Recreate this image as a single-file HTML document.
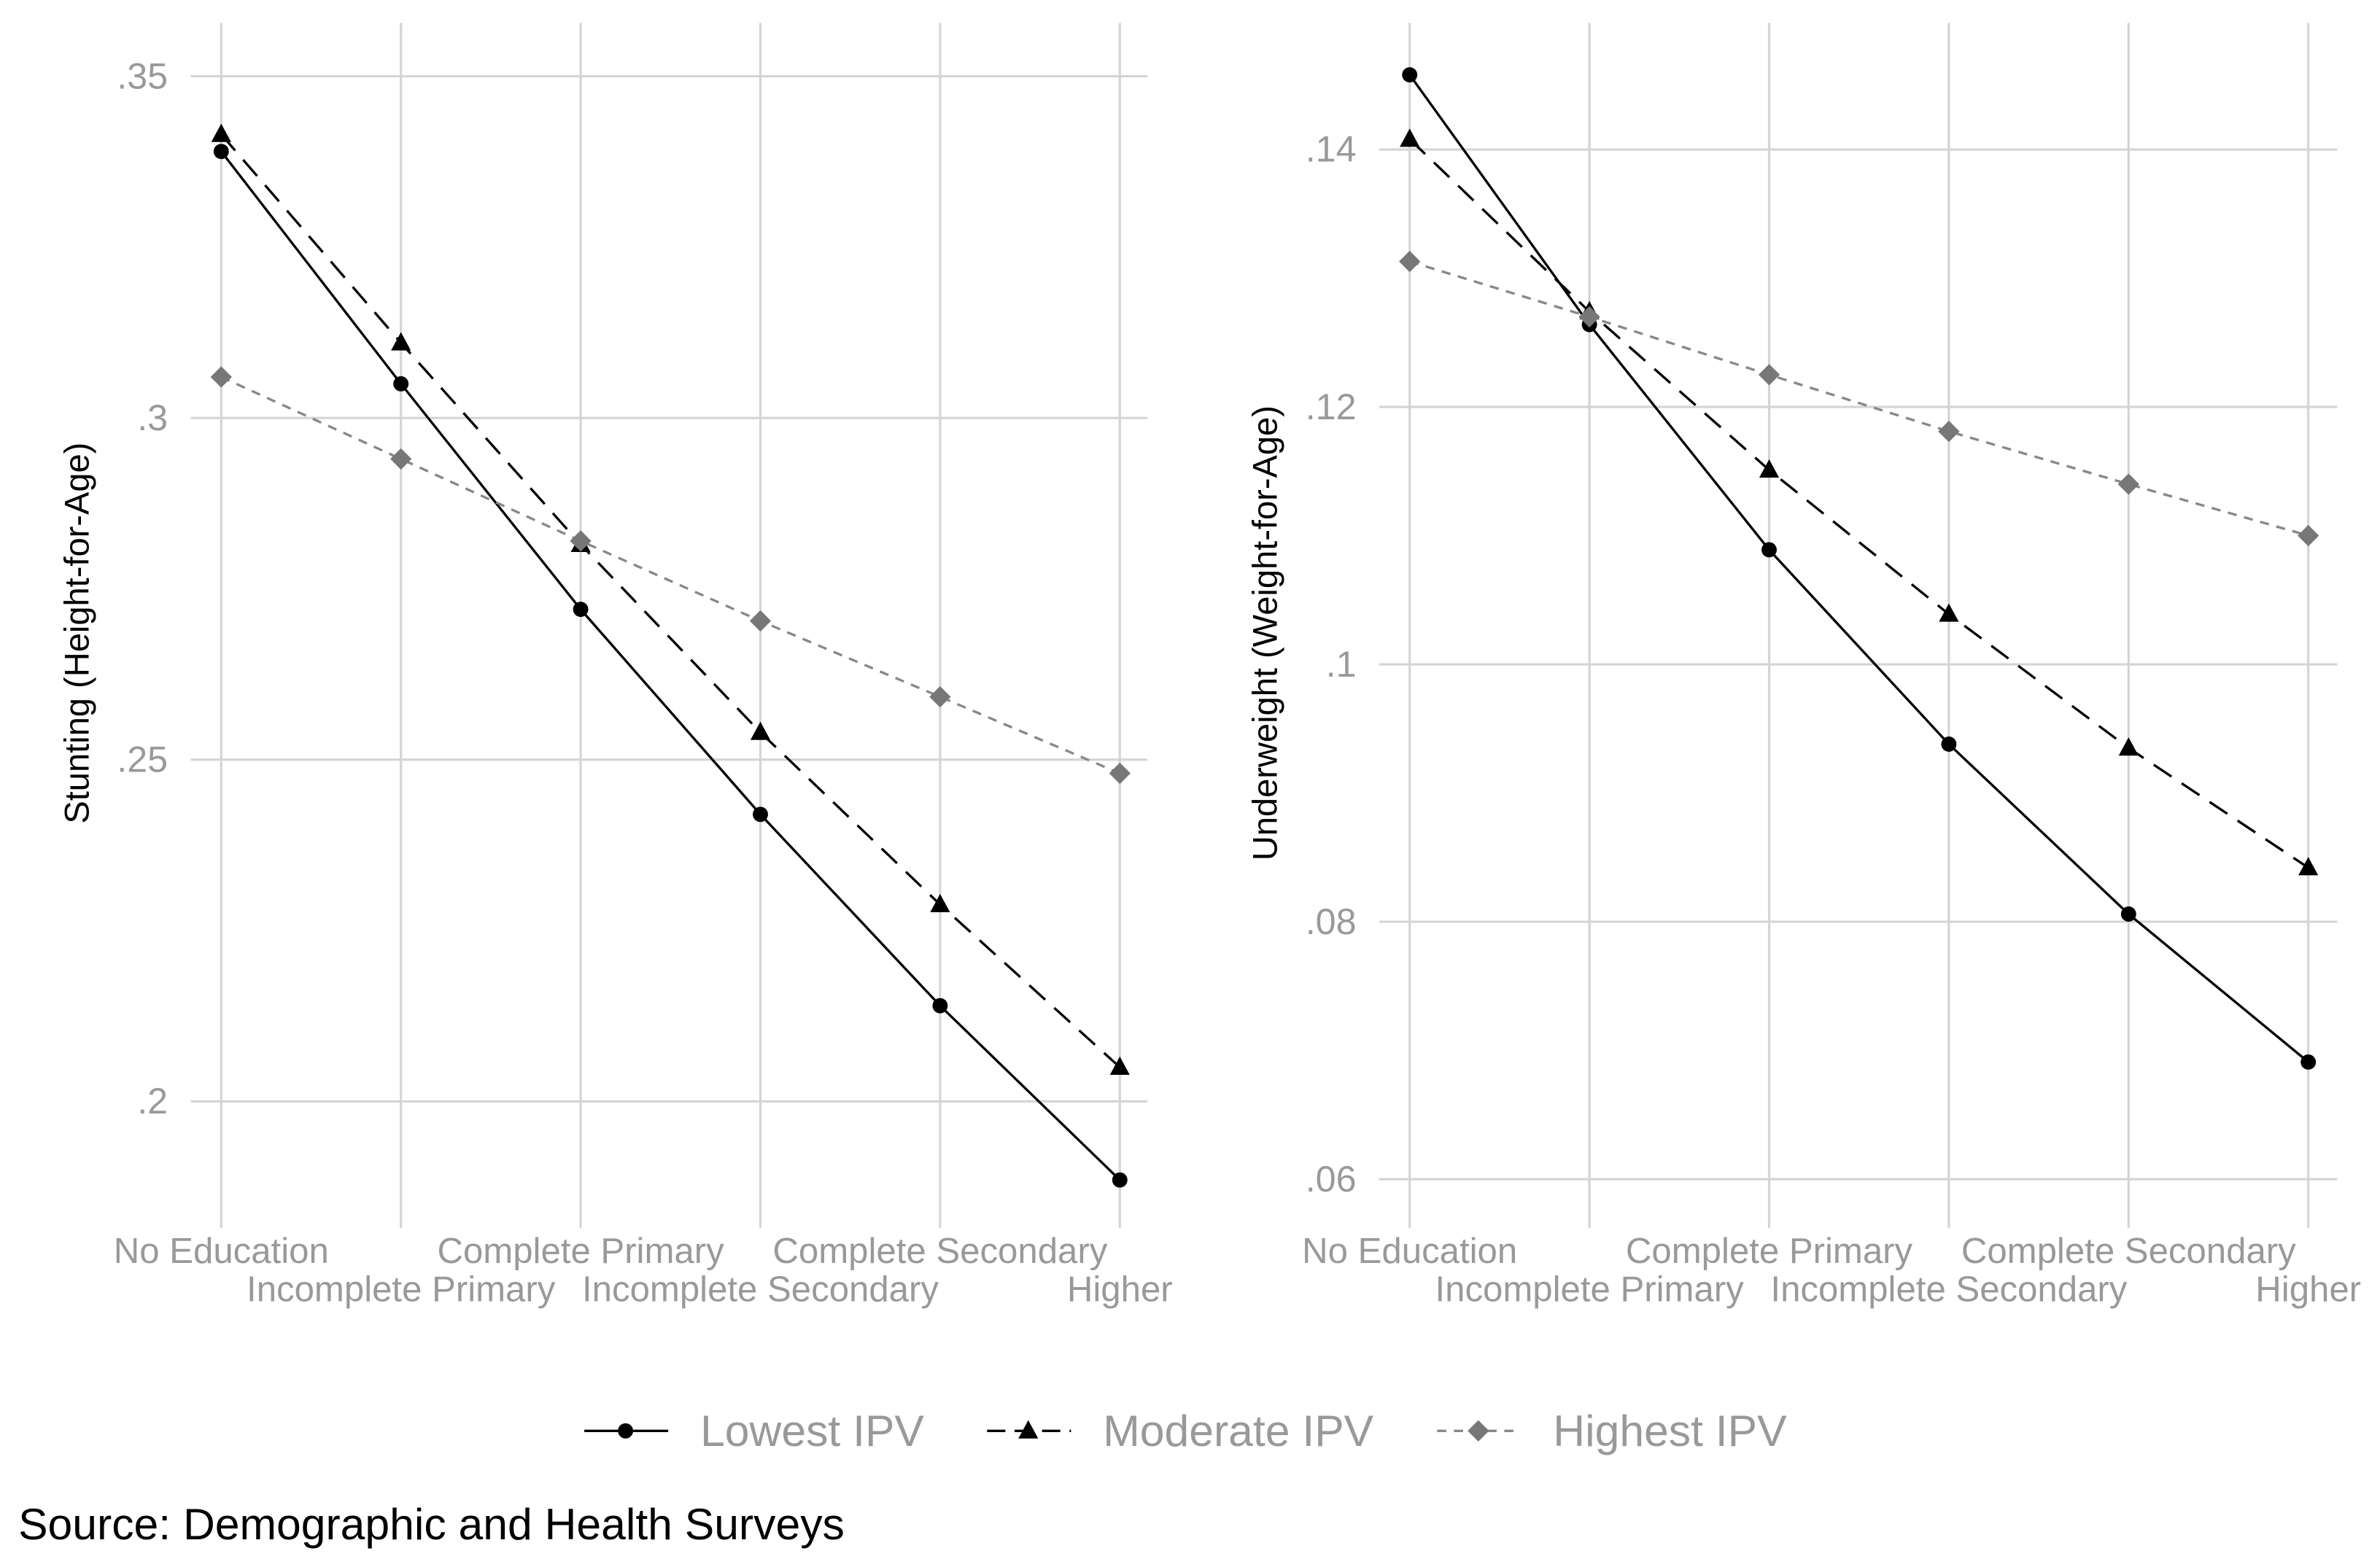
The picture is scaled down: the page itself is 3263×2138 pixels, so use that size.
<!DOCTYPE html>
<html><head><meta charset="utf-8"><style>
html,body{margin:0;padding:0;background:#fff;}
svg{display:block;font-family:"Liberation Sans",sans-serif;}
</style></head><body>
<svg id="chart" width="3263" height="2138" viewBox="0 0 1560 1022" preserveAspectRatio="none" xmlns="http://www.w3.org/2000/svg">
<g id="left"></g>
<g id="right"></g>
<g id="legend"></g>
<text x="12" y="1009" font-size="29" fill="#000">Source: Demographic and Health Surveys</text>
</svg>
<script>
const categories = ["No Education","Incomplete Primary","Complete Primary","Incomplete Secondary","Complete Secondary","Higher"];
const seriesNames = ["Lowest IPV","Moderate IPV","Highest IPV"];
const stuntLowest = [0.339,0.305,0.272,0.242,0.214,0.1885];
const stuntModerate = [0.3415,0.311,0.2815,0.254,0.2288,0.205];
const stuntHighest = [0.306,0.294,0.282,0.2703,0.2592,0.248];
const underLowest = [0.1458,0.1264,0.1089,0.0938,0.0806,0.0691];
const underModerate = [0.1408,0.1274,0.1151,0.1039,0.0935,0.0842];
const underHighest = [0.1313,0.127,0.1225,0.1181,0.114,0.11];
const stuntTicks = [0.2,0.25,0.3,0.35];
const stuntTickLabels = [".2",".25",".3",".35"];
const underTicks = [0.06,0.08,0.1,0.12,0.14];
const underTickLabels = [".06",".08",".1",".12",".14"];

const NS="http://www.w3.org/2000/svg";
function mk(parent,tag,attrs){const e=document.createElementNS(NS,tag);for(const k in attrs)e.setAttribute(k,attrs[k]);parent.appendChild(e);return e;}
const styles=[
 {stroke:"#000",dash:"",fill:"#000",shape:"circle"},
 {stroke:"#000",dash:"14,8",fill:"#000",shape:"triangle"},
 {stroke:"#888",dash:"6,5",fill:"#777",shape:"diamond"}];
function marker(g,shape,x,y,fill,name){
 let m;
 if(shape==="circle") m=mk(g,"circle",{cx:x,cy:y,r:5,fill:fill});
 else if(shape==="triangle") m=mk(g,"polygon",{points:`${x},${y-7} ${x-6.5},${y+5} ${x+6.5},${y+5}`,fill:fill});
 else m=mk(g,"polygon",{points:`${x},${y-7} ${x+7},${y} ${x},${y+7} ${x-7},${y}`,fill:fill});
 
 
 return m;
}
function panel(g,cfg){
 const xS=i=>cfg.x0+i*(cfg.x1-cfg.x0)/(categories.length-1);
 const yS=v=>cfg.yA+(v-cfg.vA)*(cfg.yB-cfg.yA)/(cfg.vB-cfg.vA);
 cfg.ticks.forEach((t,i)=>{
  const l=mk(g,"line",{x1:cfg.gl,x2:cfg.gr,y1:yS(t),y2:yS(t),stroke:"#d4d4d4","stroke-width":1.5});
  
  
  const tx=mk(g,"text",{x:cfg.gl-15,y:yS(t)+8,"font-size":24,fill:"#999","text-anchor":"end"});
  tx.textContent=cfg.labels[i];
  
  
 });
 categories.forEach((c,i)=>{
  const l=mk(g,"line",{x1:xS(i),x2:xS(i),y1:15,y2:805,stroke:"#d4d4d4","stroke-width":1.5});
  
  
  const tx=mk(g,"text",{x:xS(i),y:i%2===0?828:853,"font-size":23.5,fill:"#999","text-anchor":"middle"});
  tx.textContent=c;
  
  
 });
 const yt=mk(g,"text",{x:0,y:0,"font-size":22.5,fill:"#000","text-anchor":"middle",transform:`translate(${cfg.titleX},415) rotate(-90)`});
 yt.textContent=cfg.title;
 
 
 cfg.series.forEach((s,si)=>{
  const st=styles[si];
  const pts=s.map((v,i)=>xS(i)+","+yS(v)).join(" ");
  const pl=mk(g,"polyline",{points:pts,fill:"none",stroke:st.stroke,"stroke-width":1.6,"stroke-dasharray":st.dash});
  
  
  s.forEach((v,i)=>marker(g,st.shape,xS(i),yS(v),st.fill,'point-'+seriesNames[si].toLowerCase().replace(' ','-')));
 });
}
panel(document.getElementById("left"),{x0:145,x1:734,gl:125,gr:752,yA:722,vA:0.2,yB:50,vB:0.35,ticks:stuntTicks,labels:stuntTickLabels,title:"Stunting (Height-for-Age)",titleX:58,series:[stuntLowest,stuntModerate,stuntHighest]});
panel(document.getElementById("right"),{x0:924,x1:1513,gl:904,gr:1532,yA:773,vA:0.06,yB:98,vB:0.14,ticks:underTicks,labels:underTickLabels,title:"Underweight (Weight-for-Age)",titleX:837,series:[underLowest,underModerate,underHighest]});
const lg=document.getElementById("legend");
const lx=[383,647,942];
seriesNames.forEach((n,i)=>{
 const st=styles[i];
 const l=mk(lg,"line",{x1:lx[i],x2:lx[i]+55,y1:938,y2:938,stroke:st.stroke,"stroke-width":1.6,"stroke-dasharray":i===2?"6,5":(i===1?"12,6":"")});
 
 
 marker(lg,st.shape,lx[i]+27,938,st.fill,'legend-marker');
 const t=mk(lg,"text",{x:lx[i]+76,y:948,"font-size":29,fill:"#999"});
 t.textContent=n;
 
 
});
</script>
</body></html>
